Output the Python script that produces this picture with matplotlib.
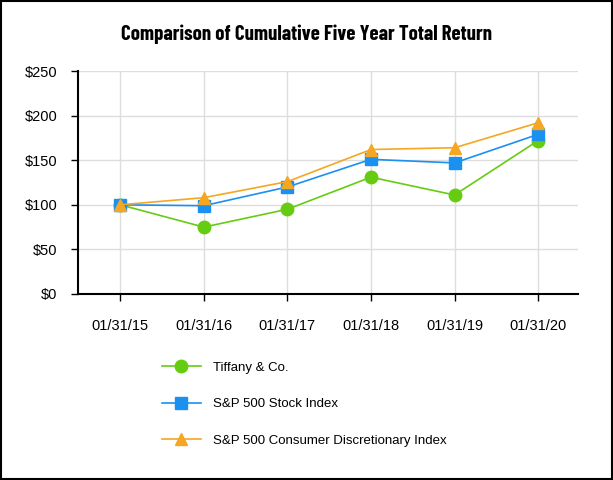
import matplotlib
matplotlib.use("Agg")
import matplotlib.pyplot as plt
from matplotlib import ticker

# values
dates = ['01/31/15', '01/31/16', '01/31/17', '01/31/18', '01/31/19', '01/31/20']
tiffany = [100, 75, 95, 131, 111, 172]
sp500 = [100, 99, 120, 151, 147, 179]
sp500_disc = [100, 108, 126, 162, 164, 192]

labels = ['Tiffany & Co.', 'S&P 500 Stock Index', 'S&P 500 Consumer Discretionary Index']
colors = ['#66cc11', '#1a90f0', '#f5a623']
markers = ['o', 's', '^']

plt.rcParams['font.family'] = ['Liberation Sans', 'DejaVu Sans']

fig = plt.figure(figsize=(6.13, 4.8), dpi=100)
ax = fig.add_axes([0.128, 0.3875, 0.815, 0.4645])

x = list(range(len(dates)))
lines = []
for series, lab, col, mk in zip([tiffany, sp500, sp500_disc], labels, colors, markers):
    ln, = ax.plot(x, series, color=col, marker=mk, markersize=9, linewidth=1.2,
                  label=lab, zorder=3)
    lines.append(ln)

ax.set_xlim(-0.5, 5.478)
ax.set_ylim(0, 250)
ax.set_xticks(x)
ax.set_xticklabels(dates)
ax.yaxis.set_major_locator(ticker.MultipleLocator(50))
ax.yaxis.set_major_formatter(ticker.FuncFormatter(lambda v, p: '${:.0f}'.format(v)))
ax.tick_params(axis='both', labelsize=10.5, colors='black', length=5, width=1)
ax.tick_params(axis='x', pad=13)
ax.tick_params(axis='y', pad=10)
ax.grid(True, color='#dddddd', linewidth=1)
ax.set_axisbelow(True)
for s in ['top', 'right']:
    ax.spines[s].set_visible(False)
for s in ['left', 'bottom']:
    ax.spines[s].set_linewidth(1.5)

fig.text(0.5, 0.928, 'Comparison of Cumulative Five Year Total Return',
         ha='center', va='center', fontsize=15, fontweight='bold',
         family=['Barlow Condensed', 'DejaVu Sans'])

fig.legend(handles=lines, loc='upper left', bbox_to_anchor=(0.255, 0.258),
           frameon=False, fontsize=9.5, handlelength=3.0, labelspacing=1.85,
           handletextpad=0.9, borderaxespad=0)

# border around the whole picture
fig.patches.append(plt.Rectangle((0.002, 0.002), 0.996, 0.996, transform=fig.transFigure,
                                 fill=False, edgecolor='black', linewidth=1.5))

fig.savefig('out.png', dpi=100)
